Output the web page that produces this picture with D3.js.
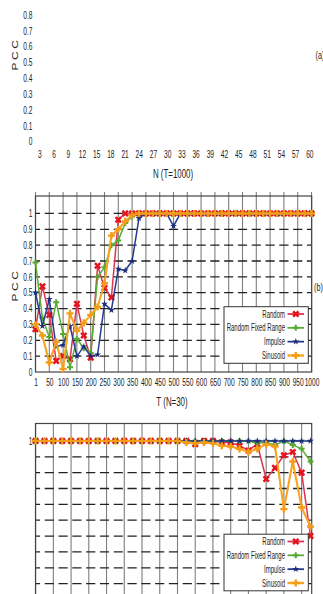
<!DOCTYPE html>
<html><head><meta charset="utf-8">
<script src="https://cdn.jsdelivr.net/npm/d3@7"></script>
<style>
html,body{margin:0;padding:0;background:#fff;overflow:hidden}
svg{display:block}
text{font-family:"Liberation Sans",Arial,sans-serif;fill:#222}
</style></head><body>
<script>
// ---------- data ----------
const aYTicks = [0, 0.1, 0.2, 0.3, 0.4, 0.5, 0.6, 0.7, 0.8];
const aXTicks = ["3","6","9","12","15","18","21","24","27","30","33","36","39","42","45","48","51","54","57","60"];

const catsB = [1,25,50,75,100,125,150,175,200,225,250,275,300,325,350,375,400,425,450,475,500,
               525,550,575,600,625,650,675,700,725,750,775,800,825,850,875,900,925,950,975,1000];
const labelsB = [1,50,100,150,200,250,300,350,400,450,500,550,600,650,700,750,800,850,900,950,1000];
const yTicksB = [0,0.1,0.2,0.3,0.4,0.5,0.6,0.7,0.8,0.9,1];

const randomB  = [0.27,0.54,0.36,0.07,0.10,0.08,0.43,0.23,0.09,0.67,0.53,0.47,0.96,1.00,1.00,1,1,1,1,1,1,
                  1,1,1,1,1,1,1,1,1,1,1,1,1,1,1,1,1,1,1,1];
const fixedB   = [0.69,0.34,0.22,0.44,0.24,0.03,0.21,0.15,0.12,0.60,0.66,0.80,0.83,0.94,0.98,1,1,1,1,1,1,
                  1,1,1,1,1,1,1,1,1,1,1,1,1,1,1,1,1,1,1,1];
const impulseB = [0.50,0.29,0.46,0.16,0.17,0.29,0.10,0.16,0.10,0.11,0.43,0.39,0.65,0.64,0.70,0.97,1,1,1,1,0.92,
                  1,1,1,1,1,1,1,1,1,1,1,1,1,1,1,1,1,1,1,1];
const sinB     = [0.30,0.23,0.06,0.19,0.02,0.37,0.26,0.31,0.36,0.41,0.56,0.86,0.90,0.95,0.99,1,1,1,1,1,1,
                  1,1,1,1,1,1,1,1,1,1,1,1,1,1,1,1,1,1,1,1];

const catsC = [1,2,3,4,5,6,7,8,9,10,11,12,13,14,15,16,17,18,19,20,21,22,23,24,25,26,27,28,29,30,31,32];
const yTicksC = [1];
const randomC  = [1,1,1,1,1,1,1,1,1,1,1,1,1,1,1,1,1,1,0.98,1,1,0.99,0.99,0.97,0.94,0.98,0.76,0.83,0.91,0.93,0.80,0.40];
const fixedC   = [1,1,1,1,1,1,1,1,1,1,1,1,1,1,1,1,1,1,1,1,1,1,1,1,1,0.985,0.99,0.975,1,0.975,0.95,0.87];
const impulseC = [1,1,1,1,1,1,1,1,1,1,1,1,1,1,1,1,1,1,1,1,1,1,1,1,1,1,1,1,1,1,1,1];
const sinC     = [1,1,1,1,1,1,1,1,1,1,1,1,1,1,1,1,1,0.99,0.985,0.99,0.985,0.97,0.965,0.95,0.93,0.95,0.98,0.965,0.57,0.87,0.58,0.46];

const seriesNames = ["Random","Random Fixed Range","Impulse","Sinusoid"];

// ---------- styles ----------
const styles = {
  "Random":             {line:"#dc3350", lw:1.5, mark:"#e5141e", sym:d3.symbolCross, size:32, rot:45},
  "Random Fixed Range": {line:"#5aad36", lw:1.5, mark:"#55a830", sym:d3.symbolCross, size:20, rot:0},
  "Impulse":            {line:"#263d8e", lw:1.5, mark:"#1d2d78", sym:d3.symbolStar,  size:15, rot:0},
  "Sinusoid":           {line:"#f6a623", lw:2.1, mark:"#f39c18", sym:d3.symbolCross, size:28, rot:0}
};
const SX = 0.66; // horizontal text compression

const W = 323, H = 594;
const svg = d3.select("body").append("svg").attr("width", W).attr("height", H);

function squeeze(sel, s){ sel.attr("transform", function(){
  const t = d3.select(this).attr("transform"); return (t ? t + " " : "") + `scale(${s},1)`; }); }

function yTitle(x, y){
  svg.append("text").attr("transform", `translate(${x},${y}) scale(0.7,1) rotate(-90)`)
    .attr("text-anchor","middle").attr("dy","0.36em").attr("font-size",12)
    .attr("letter-spacing",2.5).text("PCC");
}
function label(x, y, txt, fs, anchor){
  svg.append("text").attr("transform", `translate(${x},${y}) scale(${SX},1)`)
    .attr("text-anchor", anchor || "middle").attr("font-size", fs).text(txt);
}

// ---------- panel (a): labels only ----------
{
  const y = d3.scaleLinear().domain([0, 0.8]).range([141.7, 15]);
  const x = d3.scalePoint().domain(aXTicks).range([39.3, 309.3]);
  const gy = svg.append("g").attr("transform","translate(35.5,0)")
    .call(d3.axisLeft(y).tickValues(aYTicks).tickFormat(d => d === 0 ? "0" : d3.format(".1f")(d)).tickSize(0).tickPadding(4.5));
  gy.select(".domain").remove();
  gy.selectAll("text").attr("font-size",10).attr("font-family",null).attr("fill","#222").call(squeeze, SX);
  const gx = svg.append("g").attr("transform","translate(0,141.7)")
    .call(d3.axisBottom(x).tickSize(0).tickPadding(9.5));
  gx.select(".domain").remove();
  gx.selectAll("text").attr("font-size",10).attr("font-family",null).attr("fill","#222").call(squeeze, SX);
  yTitle(15, 54);
  label(173, 177.5, "N (T=1000)", 12);
  label(315.5, 59, "(a)", 11, "start");
}

// ---------- plot panel ----------
function panel(cfg){
  const {top, bottom, cats, data, xRange, yTicks, xLabels, stubs} = cfg;
  const fl = 35.5, fr = 311.7;
  const x = d3.scalePoint().domain(cats).range(xRange);
  const y = d3.scaleLinear().domain([0, 1.11]).range([bottom, top]);
  const g = svg.append("g");
  // vertical grid (every other category)
  const vcats = cats.filter((d,i) => i % 2 === 0);
  g.selectAll(".vg").data(vcats).join("line")
    .attr("x1", d => x(d)).attr("x2", d => x(d))
    .attr("y1", top - (stubs ? 4 : 0)).attr("y2", bottom)
    .attr("stroke", "#7e7e7e").attr("stroke-width", 1.1);
  // horizontal dashed grid
  const hv = [0.1,0.2,0.3,0.4,0.5,0.6,0.7,0.8,0.9,1.0];
  g.selectAll(".hg").data(hv).join("line")
    .attr("x1", fl).attr("x2", fr).attr("y1", d => y(d)).attr("y2", d => y(d))
    .attr("stroke", "#222").attr("stroke-width", 1.3)
    .attr("stroke-dasharray", "9.2,4.6").attr("stroke-dashoffset", 4.6);
  // frame
  g.append("rect").attr("x", fl).attr("y", top).attr("width", fr - fl).attr("height", bottom - top)
    .attr("fill", "none").attr("stroke", "#444").attr("stroke-width", 1.2);
  // y labels
  const gy = svg.append("g").attr("transform", `translate(${fl},0)`)
    .call(d3.axisLeft(y).tickValues(yTicks).tickFormat(d => d === 0 ? "0" : d === 1 ? "1" : d3.format(".1f")(d)).tickSize(0).tickPadding(4.5));
  gy.select(".domain").remove();
  gy.selectAll("text").attr("font-size",10).attr("font-family",null).attr("fill","#222").call(squeeze, SX);
  // x labels
  if (xLabels){
    const gx = svg.append("g").attr("transform", `translate(0,${bottom})`)
      .call(d3.axisBottom(x).tickValues(xLabels).tickSize(0).tickPadding(6.5));
    gx.select(".domain").remove();
    gx.selectAll("text").attr("font-size",10).attr("font-family",null).attr("fill","#222").call(squeeze, SX);
  }
  // series
  const line = d3.line().x((d,i) => x(cats[i])).y(d => y(d));
  seriesNames.forEach((name, si) => {
    const s = styles[name], vals = data[si];
    g.append("path").datum(vals).attr("d", line)
      .attr("fill","none").attr("stroke", s.line).attr("stroke-width", s.lw).attr("stroke-linejoin","round");
    g.selectAll(null).data(vals).join("path")
      .attr("d", d3.symbol().type(s.sym).size(s.size))
      .attr("transform", (d,i) => `translate(${x(cats[i])},${y(d)}) rotate(${s.rot})`)
      .attr("fill", s.mark);
  });
  // legend
  const lx = 224, lw = 84.3, ly = top + 110.7, lh = 56.6;
  const lg = svg.append("g");
  lg.append("rect").attr("x", lx).attr("y", ly).attr("width", lw).attr("height", lh)
    .attr("fill","#fff").attr("stroke","#333").attr("stroke-width",1);
  const rowY = d3.scalePoint().domain(seriesNames).range([top + 118, top + 159.5]);
  seriesNames.forEach(name => {
    const s = styles[name], yy = rowY(name);
    lg.append("text").attr("transform", `translate(285,${yy}) scale(0.6,1)`)
      .attr("text-anchor","end").attr("dy","0.35em").attr("font-size",10).text(name);
    lg.append("line").attr("x1", 287.5).attr("x2", 304).attr("y1", yy).attr("y2", yy)
      .attr("stroke", s.line).attr("stroke-width", s.lw + 0.3);
    lg.append("path").attr("d", d3.symbol().type(s.sym).size(s.size))
      .attr("transform", `translate(295.8,${yy}) rotate(${s.rot})`).attr("fill", s.mark);
  });
}

// ---------- panel (b) ----------
panel({top:196, bottom:372, cats:catsB, data:[randomB, fixedB, impulseB, sinB],
       xRange:[35.5, 311.5], yTicks:yTicksB, xLabels:labelsB, stubs:true});
yTitle(15, 285);
label(314, 290.5, "(b)", 11, "start");
label(172, 405.5, "T (N=30)", 12);

// ---------- panel (c) ----------
panel({top:423.5, bottom:599.5, cats:catsC, data:[randomC, fixedC, impulseC, sinC],
       xRange:[35.6, 310.5], yTicks:yTicksC, xLabels:null, stubs:false});
</script>
</body></html>
